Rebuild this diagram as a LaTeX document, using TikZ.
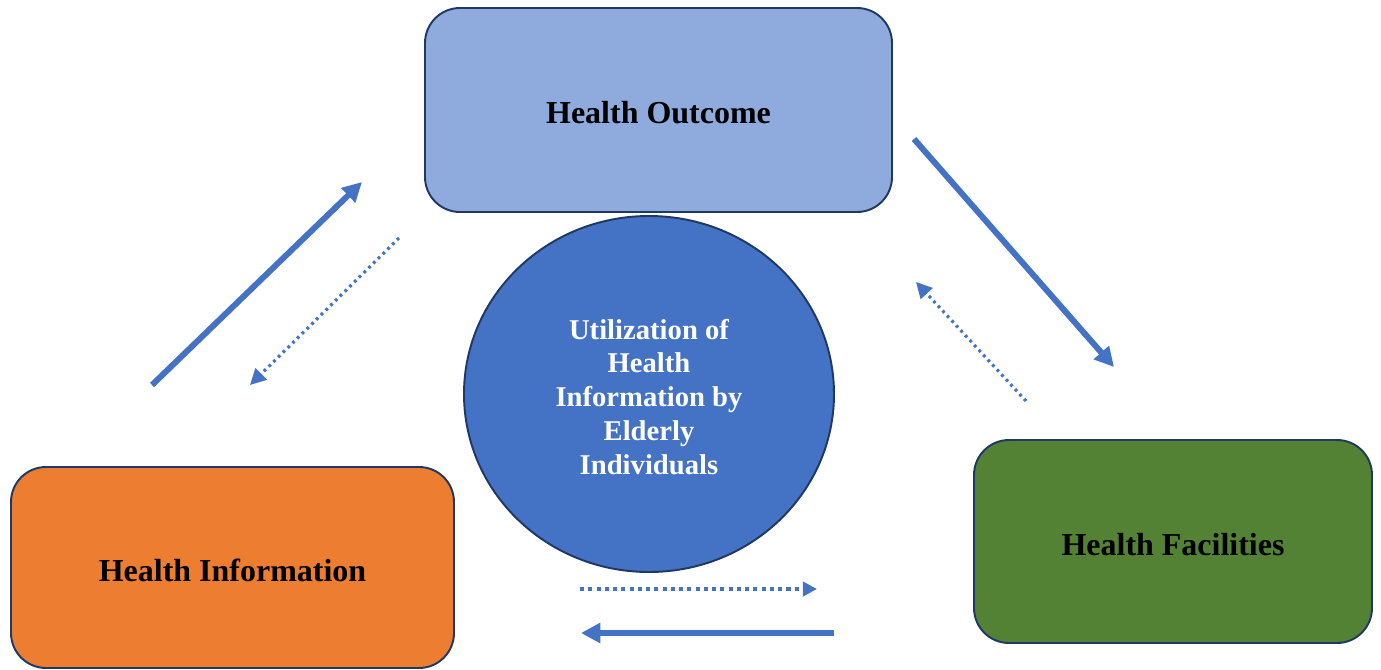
\documentclass[tikz,border=0pt]{standalone}
\usepackage{fontspec}
\setmainfont{Liberation Serif}
\usepackage{tikz}
\usetikzlibrary{arrows.meta,shapes,positioning}
\usepackage{xcolor}
\definecolor{hfblue}{RGB}{68,114,196}
\definecolor{hflight}{RGB}{143,170,220}
\definecolor{hforange}{RGB}{237,125,49}
\definecolor{hfgreen}{RGB}{84,130,53}
\definecolor{hfnavy}{RGB}{31,56,100}
\tikzstyle{factor} = [draw=hfnavy,line width=1.1pt,rounded corners=0.7cm,text height=15.8pt,font=\fontsize{18.2}{22}\selectfont\bfseries]
\tikzstyle{link} = [line width=3.4pt,color=hfblue,-{Triangle[length=11pt,width=11pt]}]
\tikzstyle{backlink} = [line width=1.8pt,color=hfblue,dash pattern=on 1.6pt off 2.2pt,-{Triangle[length=9pt,width=9pt]}]

\begin{document}
\begin{tikzpicture}
\useasboundingbox (0,0) rectangle (27.62,13.38);

% Three boxes
\node[factor, fill=hflight, minimum width=9.34cm, minimum height=4.08cm] (outcome) at (13.17, 11.18) {Health Outcome};
\node[factor, fill=hforange, minimum width=8.86cm, minimum height=4.02cm] (info) at (4.65, 2.03) {Health Information};
\node[factor, fill=hfgreen, minimum width=7.96cm, minimum height=4.06cm] (facil) at (23.46, 2.55) {Health Facilities};

% Centre
\node[ellipse, draw=hfnavy, line width=1.1pt, fill=hfblue, minimum width=7.4cm, minimum height=7.12cm,
  text=white, align=center, text height=92pt, font=\fontsize{16.3}{19.3}\selectfont\bfseries] (use) at (12.98, 5.5)
  {Utilization of\\Health\\Information by\\Elderly\\Individuals};

% Arrow ends
\coordinate (a1) at (3.04, 5.68);  \coordinate (a2) at (7.24, 9.74);
\coordinate (b1) at (7.98, 8.62);  \coordinate (b2) at (5.00, 5.68);
\coordinate (c1) at (18.28, 10.6); \coordinate (c2) at (22.28, 6.04);
\coordinate (d1) at (20.52, 5.36); \coordinate (d2) at (18.32, 7.74);
\coordinate (e1) at (11.60, 1.60); \coordinate (e2) at (16.34, 1.60);
\coordinate (f1) at (16.68, 0.72); \coordinate (f2) at (11.62, 0.72);

% Arrows
\draw[link] (a1) -- (a2);
\draw[backlink] (b1) -- (b2);
\draw[link] (c1) -- (c2);
\draw[backlink] (d1) -- (d2);
\draw[backlink, line width=2.3pt, dash pattern=on 2.3pt off 2.4pt, -{Triangle[length=8pt,width=8pt]}] (e1) -- (e2);
\draw[link] (f1) -- (f2);
\end{tikzpicture}
\end{document}
